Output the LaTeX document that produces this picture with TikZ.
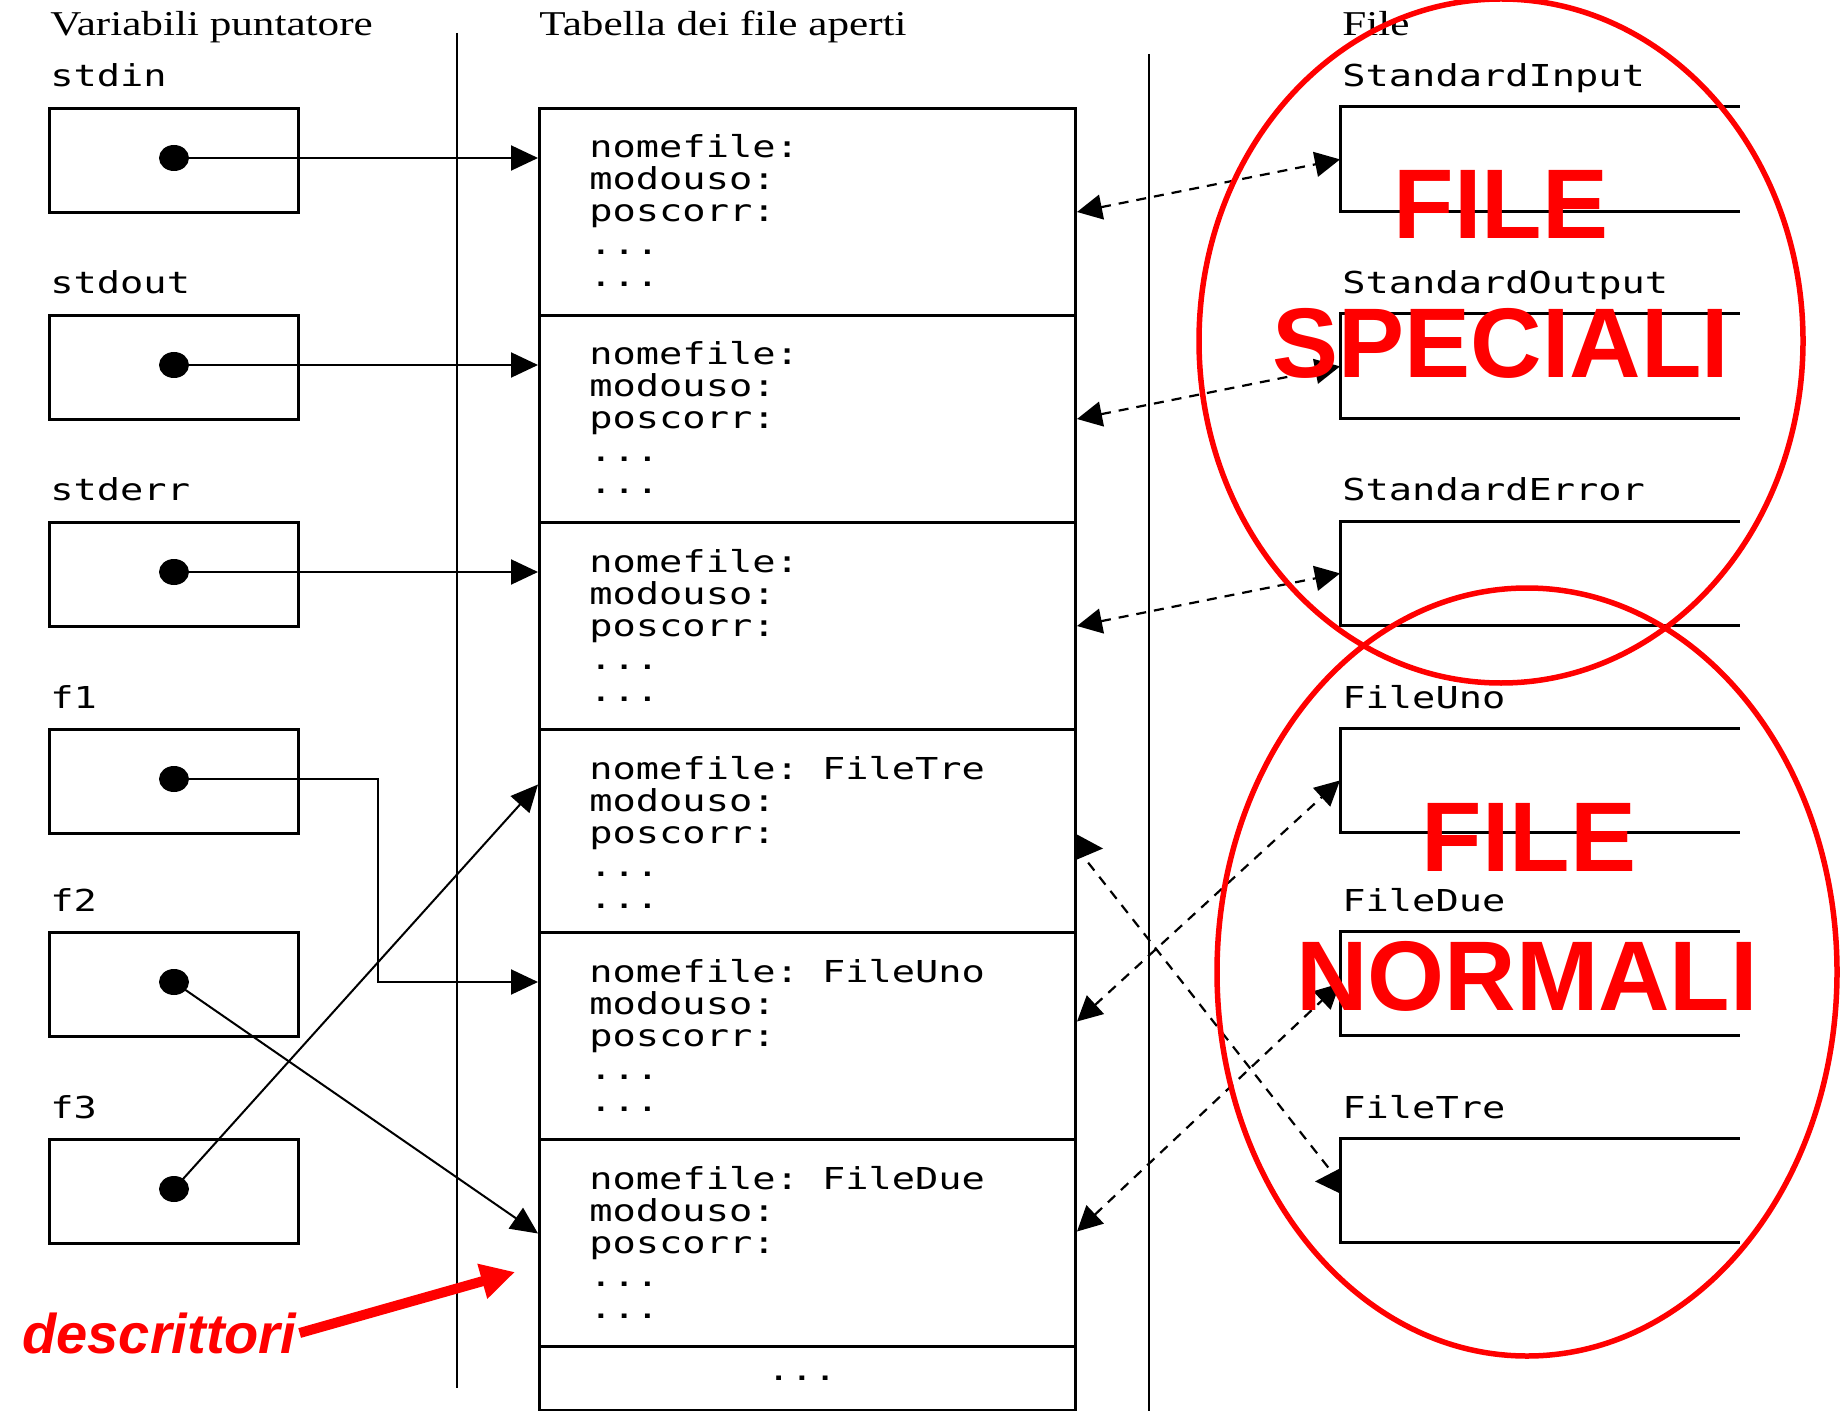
\documentclass[tikz,border=0pt]{standalone}
\usepackage{fontspec}
\setmainfont{Liberation Serif}
\newfontfamily\headfont[FakeStretch=1.24]{Liberation Serif}
\newfontfamily\codefont[FakeStretch=1.28]{DejaVu Sans Mono}
\newfontfamily\redfont{Liberation Sans}
\usetikzlibrary{arrows.meta,shapes.geometric}

\tikzset{
  varbox/.style={draw, line width=1.5pt, anchor=north west, inner sep=0pt,
    minimum width=124.5pt, minimum height=52pt},
  filebox/.style={anchor=north west, inner sep=0pt,
    minimum width=199.5pt, minimum height=52pt},
  descrow/.style={draw, line width=1.5pt, anchor=north west, inner sep=0pt,
    minimum width=268pt},
  ptrdot/.style={ellipse, fill, inner sep=0pt, minimum width=15pt, minimum height=13pt},
  heading/.style={anchor=base west, inner sep=0pt, font=\headfont\fontsize{17.4}{20}\selectfont},
  codetext/.style={anchor=base west, inner sep=0pt, font=\codefont\frenchspacing\fontsize{15.1}{18}\selectfont},
  ptr/.style={line width=1pt, -{Triangle[length=13.5pt,width=12.5pt]}},
  linkline/.style={line width=1.1pt, dash pattern=on 5pt off 4pt},
  link/.style={linkline, {Triangle[length=12.5pt,width=12.5pt]}-{Triangle[length=12.5pt,width=12.5pt]}},
  sepline/.style={line width=1pt},
  fileside/.style={line width=1.5pt},
  redring/.style={red, line width=2.75pt},
  redtext/.style={red, inner sep=0pt, font=\redfont\bfseries\fontsize{49.5}{55}\selectfont}
}

\begin{document}
\begin{tikzpicture}[x=0.5pt, y=-0.5pt]
  \useasboundingbox (0,0) rectangle (1845,1411);

  % titoli delle colonne
  \node[heading] (t-var)  at (50,36)   {Variabili puntatore};
  \node[heading] (t-tab)  at (539,36)  {Tabella dei file aperti};
  \node[heading] (t-file) at (1342,36) {File};

  \draw[sepline] (457,33) -- (457,1388);
  \draw[sepline] (1149,54) -- (1149,1411);

  % variabili puntatore
  \node[varbox] (stdin)  at (48,107)  {};
  \node[varbox] (stdout) at (48,314)  {};
  \node[varbox] (stderr) at (48,521)  {};
  \node[varbox] (f1)     at (48,728)  {};
  \node[varbox] (f2)     at (48,931)  {};
  \node[varbox] (f3)     at (48,1138) {};

  \node[codetext] (l-stdin)  at (50,87)   {stdin};
  \node[codetext] (l-stdout) at (50,294)  {stdout};
  \node[codetext] (l-stderr) at (50,501)  {stderr};
  \node[codetext] (l-f1)     at (50,708)  {f1};
  \node[codetext] (l-f2)     at (50,911)  {f2};
  \node[codetext] (l-f3)     at (50,1118) {f3};

  \node[ptrdot] (p-stdin)  at (174,158)  {};
  \node[ptrdot] (p-stdout) at (174,365)  {};
  \node[ptrdot] (p-stderr) at (174,572)  {};
  \node[ptrdot] (p-f1)     at (174,779)  {};
  \node[ptrdot] (p-f2)     at (174,982)  {};
  \node[ptrdot] (p-f3)     at (174,1189) {};

  % tabella dei file aperti
  \node[descrow, minimum height=103.5pt] (d1) at (538,107)  {};
  \node[descrow, minimum height=103.5pt] (d2) at (538,314)  {};
  \node[descrow, minimum height=103.5pt] (d3) at (538,521)  {};
  \node[descrow, minimum height=101.5pt] (d4) at (538,728)  {};
  \node[descrow, minimum height=103.5pt] (d5) at (538,931)  {};
  \node[descrow, minimum height=103.5pt] (d6) at (538,1138) {};
  \node[descrow, minimum height=32pt]    (d7) at (538,1345) {};

  \foreach \t/\f [count=\i] in {107/,314/,521/,728/FileTre,931/FileUno,1138/FileDue} {
    \node[codetext] (r\i-a) at (589,\t+51)  {nomefile: \f};
    \node[codetext] (r\i-b) at (589,\t+83)  {modouso:};
    \node[codetext] (r\i-c) at (589,\t+115) {poscorr:};
    \node[codetext] (r\i-d) at (589,\t+148) {...};
    \node[codetext] (r\i-e) at (589,\t+180) {...};
  }
  \node[codetext, anchor=base] (r7) at (802,1380) {...};

  % file
  \node[filebox] (fin)  at (1340,107)  {};
  \node[filebox] (fout) at (1340,314)  {};
  \node[filebox] (ferr) at (1340,521)  {};
  \node[filebox] (funo) at (1340,728)  {};
  \node[filebox] (fdue) at (1340,931)  {};
  \node[filebox] (ftre) at (1340,1138) {};
  \foreach \n in {fin,fout,ferr,funo,fdue,ftre}
    \draw[fileside] (\n.north east) -- (\n.north west) -- (\n.south west) -- (\n.south east);

  \node[codetext] (l-fin)  at (1342,87)   {StandardInput};
  \node[codetext] (l-fout) at (1342,294)  {StandardOutput};
  \node[codetext] (l-ferr) at (1342,501)  {StandardError};
  \node[codetext] (l-funo) at (1342,708)  {FileUno};
  \node[codetext] (l-fdue) at (1342,911)  {FileDue};
  \node[codetext] (l-ftre) at (1342,1118) {FileTre};

  % puntatori
  \draw[ptr] (p-stdin.center)  -- (p-stdin -| d1.west);
  \draw[ptr] (p-stdout.center) -- (p-stdout -| d2.west);
  \draw[ptr] (p-stderr.center) -- (p-stderr -| d3.west);
  \coordinate (k1) at (378,780);
  \draw[ptr] (p-f1.center) -- (k1 |- p-f1) -- (k1 |- p-f2) -- (p-f2 -| d5.west);
  \draw[ptr] (p-f2.center) -- ([yshift=4.75pt]d6.west);
  \draw[ptr] (p-f3.center) -- ([yshift=23.25pt]d4.west);

  % descrittori <-> file
  \draw[link] (d1.east) -- (fin.west);
  \draw[link] (d2.east) -- (fout.west);
  \draw[link] (d3.east) -- (ferr.west);
  \draw[link] ([yshift=7.25pt]d5.east) -- (funo.west);
  \draw[link] ([yshift=5.75pt]d6.east) -- (fdue.west);
  \coordinate (t4) at ([yshift=-8.75pt]d4.east);
  \coordinate (e6) at ([yshift=4pt]ftre.west);
  \draw[linkline] (t4) -- (e6);
  \fill (t4) ++(0,-14) -- ++(0,25) -- ++(26,-11) -- cycle;
  \fill (e6) ++(0,-14) -- ++(0,25) -- ++(-25,-12) -- cycle;

  % evidenziazioni
  \draw[redring] (1501,341) ellipse [x radius=302, y radius=342];
  \draw[redring] (1527,972) ellipse [x radius=310, y radius=384];
  \node[redtext] (fs1) at (1501,204) {FILE};
  \node[redtext] (fs2) at (1501,343) {SPECIALI};
  \node[redtext] (fn1) at (1529,837) {FILE};
  \node[redtext] (fn2) at (1527,976) {NORMALI};

  \node[red, anchor=base west, inner sep=1.5pt,
    font=\redfont\bfseries\itshape\fontsize{28}{30}\selectfont] (descr) at (19,1353) {descrittori};
  \coordinate (dtip) at (515,1272);
  \draw[red, line width=5pt, -{Triangle[length=17pt,width=17pt]}] (descr.east) -- (dtip);
\end{tikzpicture}
\end{document}
